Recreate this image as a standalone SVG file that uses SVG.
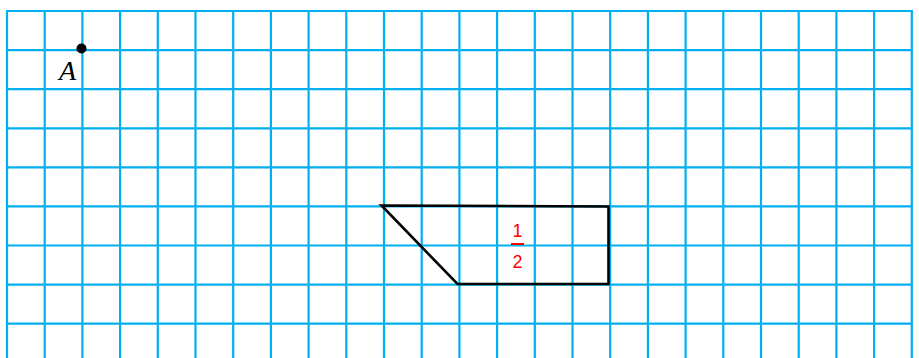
<svg xmlns="http://www.w3.org/2000/svg" width="919" height="358" viewBox="0 0 919 358">
<style>
.g{stroke:#00B0F0;stroke-width:2.2;fill:none}
.fr{fill:#FF0000;font-family:"Liberation Sans",Arial,sans-serif;font-size:18px;text-anchor:middle}
</style>
<rect width="919" height="358" fill="#fff"/>
<g id="grid" class="g">
<path d="M7,11V358M44.7,11V358M82.4,11V358M120.1,11V358M157.8,11V358M195.5,11V358M233.2,11V358M270.9,11V358M308.6,11V358M346.3,11V358M384,11V358M421.7,11V358M459.4,11V358M497.1,11V358M534.8,11V358M572.5,11V358M610.2,11V358M647.9,11V358M685.6,11V358M723.3,11V358M761,11V358M798.7,11V358M836.4,11V358M874.1,11V358M911.8,11V358"/>
<path d="M6,11H913M6,50.1H913M6,89.2H913M6,128.3H913M6,167.4H913M6,206.4H913M6,245.5H913M6,284.6H913M6,323.7H913"/>
</g>
<g id="pointA">
<circle cx="81.5" cy="48.5" r="5" fill="#000"/>
<text x="67.5" y="80" font-family="'Liberation Serif','DejaVu Serif',serif" font-style="italic" font-size="28" text-anchor="middle">A</text>
</g>
<g id="shape">
<polygon points="381.5,205.5 608.5,206.5 608.5,284 457.5,284" fill="none" stroke="#000" stroke-width="2.6" stroke-linejoin="miter"/>
</g>
<g id="fraction">
<text class="fr" x="517.5" y="237">1</text>
<rect x="511" y="243" width="13" height="2" fill="#FF0000"/>
<text class="fr" x="517.5" y="268">2</text>
</g>
</svg>
